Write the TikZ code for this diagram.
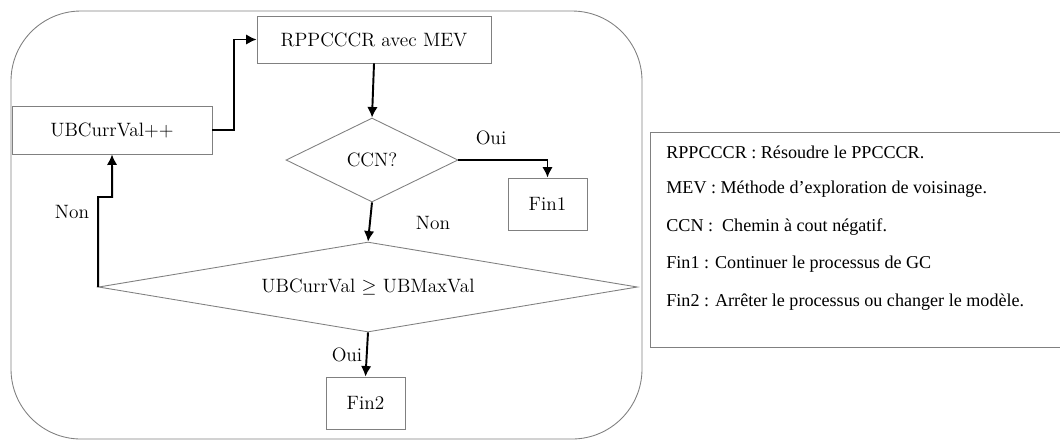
\documentclass[tikz,border=0pt]{standalone}
\usepackage{fontspec}
\usetikzlibrary{shapes.geometric,arrows.meta}
\newfontfamily\legfont{Liberation Serif}

\begin{document}
\begin{tikzpicture}[x=0.02cm,y=-0.02cm,
	font=\fontsize{11}{13}\selectfont,
	box/.style={draw=gray,line width=0.5pt,rectangle,inner sep=0pt},
	decision/.style={draw=gray,line width=0.5pt,diamond,inner sep=0pt},
	legtext/.style={anchor=west,inner sep=0pt,font=\legfont\fontsize{10.3}{12}\selectfont},
	arr/.style={-{Latex[length=6pt,width=6pt]},line width=1.1pt}]
				\useasboundingbox (0,0) rectangle (1060,441);
				\draw[gray,line width=0.5pt,rounded corners=1.4cm] (11,11) rectangle (642,439);

				\node[box,minimum width=4.68cm,minimum height=0.94cm] (rppcccr) at (374,39.5) {RPPCCCR avec MEV};
				\node[box,minimum width=4cm,minimum height=0.96cm] (ubinc) at (112,130) {UBCurrVal++};
				\node[decision,aspect=2,minimum width=3.44cm,minimum height=1.68cm] (ccn) at (372,160) {CCN?};
				\node[box,minimum width=1.58cm,minimum height=1.04cm] (fin1) at (547.5,204) {Fin1};
				\node[decision,aspect=6,minimum width=10.78cm,minimum height=1.8cm] (test) at (368,287) {UBCurrVal $\geq$ UBMaxVal};
				\node[box,minimum width=1.58cm,minimum height=1.04cm] (fin2) at (365.5,403) {Fin2};

				\node (oui1) at (491,138) {Oui};
				\node (non1) at (433,223) {Non};
				\node (non2) at (72,212) {Non};
				\node (oui2) at (347,355) {Oui};

				\draw[arr] (ubinc.east) -- ++(22,0) |- (rppcccr.west);
				\draw[arr] (rppcccr.south) -- (ccn.north);
				\draw[arr] (ccn.east) -| (fin1.north);
				\draw[arr] (ccn.south) -- (test.north);
				\draw[arr] (test.south) -- (fin2.north);
				\draw[arr] (test.west) -- ++(0,-90) -- ++(14,0) -- (ubinc.south);

				% legende
				\draw[gray,line width=0.5pt] (1060,132) -- (650,132) -- (650,347) -- (1060,347);
				\node[legtext] (leg1) at (666,152) {RPPCCCR : Résoudre le PPCCCR.};
				\node[legtext] (leg2) at (666,189) {MEV : Méthode d’exploration de voisinage.};
				\node[legtext] (leg3) at (666,227) {CCN :\ \ Chemin à cout négatif.};
				\node[legtext] (leg4) at (666,264) {Fin1 : Continuer le processus de GC};
				\node[legtext] (leg5) at (666,302) {Fin2 : Arrêter le processus ou changer le modèle.};
			\end{tikzpicture}
\end{document}
